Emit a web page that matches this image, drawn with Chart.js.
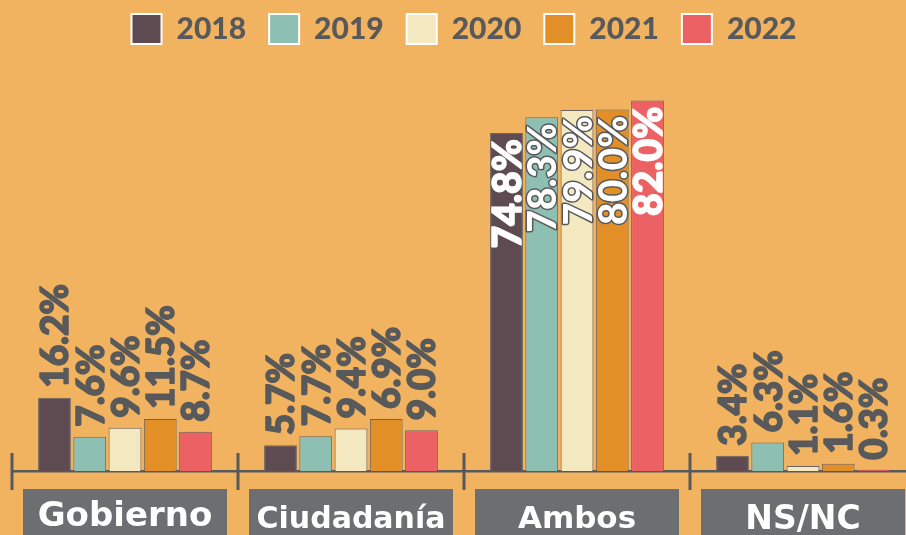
<!DOCTYPE html>
<html>
<head>
<meta charset="utf-8">
<script src="https://cdn.jsdelivr.net/npm/chart.js@4"></script>
<style>
  html, body { margin: 0; padding: 0; overflow: hidden; background: #f2b361; }
  #wrap { width: 920px; height: 535px; }
</style>
</head>
<body>
<div id="wrap"><canvas id="chart"></canvas></div>
<script>
const categories = ['Gobierno', 'Ciudadanía', 'Ambos', 'NS/NC'];
const years = ['2018', '2019', '2020', '2021', '2022'];

// bar heights as drawn
const v2018 = [16.2, 5.7, 74.8, 3.4];
const v2019 = [7.6, 7.7, 78.3, 6.3];
const v2020 = [9.6, 9.4, 79.9, 1.1];
const v2021 = [11.5, 11.5, 80.0, 1.6];
const v2022 = [8.7, 9.0, 82.0, 0.3];
// values printed on the bars (Ciudadanía 2021 bar is drawn taller than its label)
const t2021 = [11.5, 6.9, 80.0, 1.6];

const series = [v2018, v2019, v2020, v2021, v2022];
const printed = [v2018, v2019, v2020, t2021, v2022];
const colors = ['#5e4a51', '#8ebfb3', '#f4e8c1', '#e38f28', '#ec6164'];
const outlinedInside = [false, true, true, true, false];
const insideIndex = 2;

const labelGrey = '#58595b';
const boxGrey = '#6d6e71';
const heavy = "'Lato Black', Lato";

const categoryBoxes = {
    id: 'categoryBoxes',
    beforeDraw(chart) {
        const ctx = chart.ctx;
        const x = chart.scales.x;
        const step = x.width / categories.length;
        ctx.save();
        ctx.fillStyle = boxGrey;
        categories.forEach((c, i) => {
            const cx = x.getPixelForTick(i);
            ctx.fillRect(cx - 102, x.top + 18, 204, chart.height - x.top);
        });
        ctx.fillStyle = labelGrey;
        for (let i = 0; i <= categories.length; i++) {
            const px = x.left + step * i;
            ctx.fillRect(px - 1.5, x.top - 18, 3, 37);
        }
        ctx.restore();
    }
};

const barLabels = {
    id: 'barLabels',
    afterDatasetsDraw(chart) {
        const ctx = chart.ctx;
        ctx.save();
        chart.data.datasets.forEach((ds, di) => {
            const meta = chart.getDatasetMeta(di);
            meta.data.forEach((bar, i) => {
                const text = printed[di][i].toFixed(1) + '%';
                ctx.save();
                ctx.translate(bar.x, bar.y);
                ctx.rotate(-Math.PI / 2);
                ctx.textBaseline = 'middle';
                ctx.lineJoin = 'round';
                if (i === insideIndex) {
                    ctx.font = '900 39px ' + heavy;
                    ctx.textAlign = 'right';
                    ctx.strokeStyle = outlinedInside[di] ? labelGrey : '#ffffff';
                    ctx.lineWidth = outlinedInside[di] ? 3 : 1.5;
                    ctx.strokeText(text, -6, 2);
                    ctx.fillStyle = '#ffffff';
                    ctx.fillText(text, -6, 2);
                } else {
                    ctx.font = '900 37px ' + heavy;
                    ctx.textAlign = 'left';
                    ctx.fillStyle = labelGrey;
                    ctx.strokeStyle = labelGrey;
                    ctx.lineWidth = 1.5;
                    ctx.strokeText(text, 10, 2);
                    ctx.fillText(text, 10, 2);
                }
                ctx.restore();
            });
        });
        ctx.restore();
    }
};

const tickSizes = [34, 30, 31, 33];
const tickCenters = [46, 49, 49, 49];

new Chart(document.getElementById('chart'), {
    type: 'bar',
    data: {
        labels: categories,
        datasets: years.map((y, i) => ({
            label: y,
            data: series[i],
            backgroundColor: colors[i],
            borderColor: '#6b6463',
            borderWidth: 1,
            borderSkipped: 'bottom',
            barPercentage: 0.93,
            categoryPercentage: 0.78
        }))
    },
    options: {
        responsive: true,
        maintainAspectRatio: false,
        animation: false,
        layout: { padding: { top: -9, left: 12, right: 4, bottom: 0 } },
        plugins: {
            tooltip: { enabled: false },
            legend: {
                position: 'top',
                labels: {
                    boxWidth: 30,
                    boxHeight: 30,
                    padding: 23,
                    color: labelGrey,
                    font: { family: heavy, size: 30, weight: '900' },
                    generateLabels(chart) {
                        return chart.data.datasets.map((ds, i) => ({
                            text: ds.label,
                            fillStyle: colors[i],
                            strokeStyle: '#ffffff',
                            lineWidth: 2,
                            fontColor: labelGrey,
                            datasetIndex: i
                        }));
                    }
                }
            }
        },
        scales: {
            x: {
                grid: { display: false, drawTicks: false },
                border: { display: true, color: labelGrey, width: 2.5 },
                ticks: {
                    color: '#ffffff',
                    padding: 10,
                    font: c => ({
                        family: 'DejaVu Sans',
                        weight: 'bold',
                        size: tickSizes[c.index],
                        lineHeight: (tickCenters[c.index] - 10) * 2 + 'px'
                    })
                },
                afterFit(scale) { scale.height = 64; }
            },
            y: {
                display: false,
                min: 0,
                max: 92.3
            }
        }
    },
    plugins: [categoryBoxes, barLabels]
});
</script>
</body>
</html>
